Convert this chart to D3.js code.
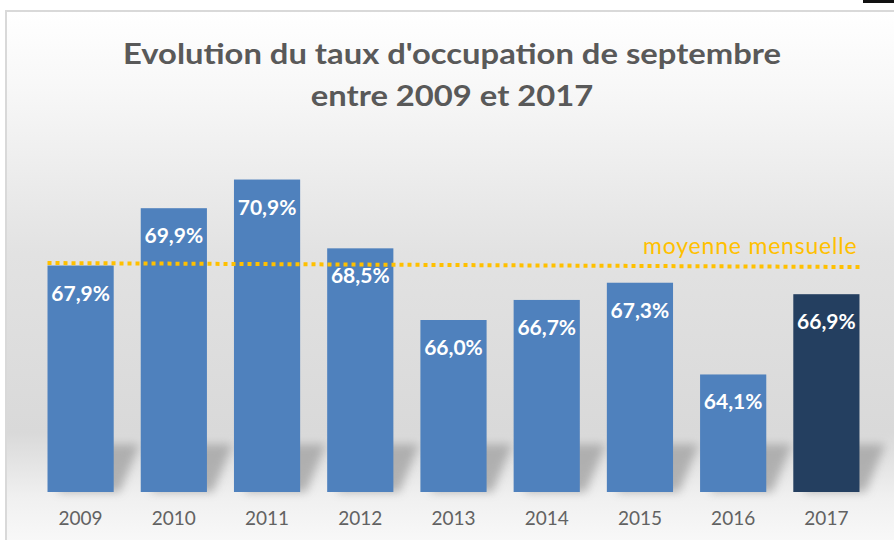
<!DOCTYPE html>
<html lang="fr">
<head>
<meta charset="UTF-8" />
<title>Taux d'occupation septembre</title>
<script src="https://d3js.org/d3.v7.min.js"></script>
<style>
  body { margin: 0; background: #fff; }
  text { font-family: Lato, "Open Sans", sans-serif; }
</style>
</head>
<body>
<svg width="894" height="540"></svg>
<script>
// data
var years = ["2009", "2010", "2011", "2012", "2013", "2014", "2015", "2016", "2017"];
var rates = [67.9, 69.9, 70.9, 68.5, 66.0, 66.7, 67.3, 64.1, 66.9];
var moyenne = 67.9;
var titleLines = ["Evolution du taux d'occupation de septembre", "entre 2009 et 2017"];

var svg = d3.select("svg");

var defs = svg.append("defs");
var grad = defs.append("linearGradient")
  .attr("id", "bg").attr("x1", 0).attr("y1", 0).attr("x2", 0).attr("y2", 1);
grad.append("stop").attr("offset", "0%").attr("stop-color", "#ffffff");
grad.append("stop").attr("offset", "15%").attr("stop-color", "#f7f7f7");
grad.append("stop").attr("offset", "45%").attr("stop-color", "#e2e2e2");
grad.append("stop").attr("offset", "78%").attr("stop-color", "#d9d9d9");
grad.append("stop").attr("offset", "90%").attr("stop-color", "#f0f0f0");
grad.append("stop").attr("offset", "100%").attr("stop-color", "#fafafa");

defs.append("filter").attr("id", "blur")
  .attr("x", "-50%").attr("y", "-50%").attr("width", "200%").attr("height", "200%")
  .append("feGaussianBlur").attr("stdDeviation", 5);

// chart frame
svg.append("rect")
  .attr("x", 6).attr("y", 11).attr("width", 894).attr("height", 540)
  .attr("fill", "url(#bg)")
  .attr("stroke", "#d9d9d9").attr("stroke-width", 2);

svg.append("rect")
  .attr("x", 863).attr("y", 0).attr("width", 31).attr("height", 3)
  .attr("fill", "#111");

// title is stretched sideways in the original picture
svg.selectAll(".title")
  .data(titleLines)
  .enter().append("text")
  .attr("class", "title")
  .attr("transform", function(d, i) { return "translate(452," + (64 + i * 42) + ") scale(1.17,1)"; })
  .attr("text-anchor", "middle")
  .attr("font-size", "28px")
  .attr("font-weight", "bold")
  .attr("fill", "#595959")
  .text(function(d) { return d; });

var xScale = d3.scaleBand().domain(years).range([34, 873]).paddingInner(0.29).paddingOuter(0.145);
var yScale = d3.scaleLinear().domain([60, 72]).range([492, 148]);

// soft shadows behind the bars
svg.selectAll(".shadow")
  .data(years)
  .enter().append("path")
  .attr("class", "shadow")
  .attr("filter", "url(#blur)")
  .attr("fill", "#9a9a9a")
  .attr("opacity", 0.7)
  .attr("d", function(d) {
    var x0 = xScale(d), x1 = x0 + xScale.bandwidth(), b = yScale(60);
    return "M" + (x0 + 10) + "," + b + "L" + (x1 + 6) + "," + b +
           "L" + (x1 + 26) + "," + (b - 48) + "L" + (x0 + 30) + "," + (b - 48) + "Z";
  });

svg.selectAll(".bar")
  .data(rates)
  .enter().append("rect")
  .attr("class", "bar")
  .attr("x", function(d, i) { return xScale(years[i]); })
  .attr("y", function(d) { return yScale(d); })
  .attr("width", xScale.bandwidth())
  .attr("height", function(d) { return yScale(60) - yScale(d); })
  .attr("fill", function(d, i) { return i === years.length - 1 ? "#243f60" : "#4f81bd"; });

svg.selectAll(".label")
  .data(rates)
  .enter().append("text")
  .attr("class", "label")
  .attr("x", function(d, i) { return xScale(years[i]) + xScale.bandwidth() / 2; })
  .attr("y", function(d) { return yScale(d) + 35; })
  .attr("text-anchor", "middle")
  .attr("font-size", "21px")
  .attr("font-weight", "bold")
  .attr("fill", "#ffffff")
  .text(function(d) { return d.toFixed(1).replace(".", ",") + "%"; });

// x axis, labels only
var xAxis = svg.append("g")
  .attr("transform", "translate(0," + yScale(60) + ")")
  .call(d3.axisBottom(xScale).tickSize(0).tickPadding(20));
xAxis.select(".domain").remove();
xAxis.selectAll("text")
  .attr("font-family", "Lato, sans-serif")
  .attr("font-size", "19px")
  .attr("fill", "#626262");

// monthly average
var first = xScale(years[0]), last = xScale(years[years.length - 1]) + xScale.bandwidth();
svg.append("line")
  .attr("x1", first).attr("x2", last)
  .attr("y1", yScale(moyenne) - 2.5).attr("y2", yScale(moyenne) + 1.5)
  .attr("stroke", "#ffc000")
  .attr("stroke-width", 4)
  .attr("stroke-dasharray", "4,4");

svg.append("text")
  .attr("x", last - 2)
  .attr("y", yScale(moyenne) - 12)
  .attr("text-anchor", "end")
  .attr("font-size", "23px")
  .attr("fill", "#ffc000")
  .attr("letter-spacing", "0.8px")
  .text("moyenne mensuelle");
</script>
</body>
</html>
